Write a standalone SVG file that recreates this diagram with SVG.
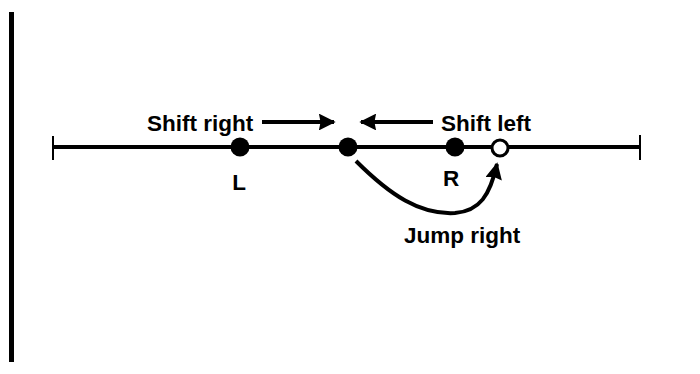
<svg xmlns="http://www.w3.org/2000/svg" width="700" height="374" viewBox="0 0 700 374">
<defs>
<style>
text{font-family:"Liberation Sans",Arial,sans-serif;font-weight:bold;font-size:22.5px;fill:#000}
.dot{fill:#000}
.open{fill:#fff;stroke:#000;stroke-width:3}
.ln{stroke:#000;fill:none}
</style>
<marker id="ah" viewBox="0 0 10 10" refX="9" refY="5" markerWidth="7" markerHeight="4.2" markerUnits="strokeWidth" orient="auto">
<path d="M0,0 L10,5 L0,10 L1,5 z" fill="#000"/>
</marker>
</defs>
<rect x="9" y="12" width="5" height="350" fill="#000"/>
<g id="axis">
<line class="ln" x1="53" y1="147" x2="640" y2="147" stroke-width="4"/>
<line class="ln" x1="53" y1="136" x2="53" y2="160" stroke-width="2"/>
<line class="ln" x1="640" y1="135" x2="640" y2="160" stroke-width="2"/>
</g>
<g id="connectors">
<line class="ln" x1="262" y1="122" x2="334" y2="122" stroke-width="4" marker-end="url(#ah)"/>
<line class="ln" x1="433" y1="122" x2="361" y2="122" stroke-width="4" marker-end="url(#ah)"/>
<path class="ln" d="M356,161 C390,195 420,215 455,213 C480,211 490,195 497,164" stroke-width="4" marker-end="url(#ah)"/>
</g>
<g id="nodeL"><circle class="dot" cx="240" cy="147" r="9.5"/><text x="239" y="190" text-anchor="middle">L</text></g>
<g id="nodeM"><circle class="dot" cx="348" cy="147" r="9.5"/></g>
<g id="nodeR"><circle class="dot" cx="455" cy="147" r="9.5"/><text x="451" y="186" text-anchor="middle">R</text></g>
<g id="nodeOpen"><circle class="open" cx="500" cy="148" r="8"/></g>
<g id="labels">
<text x="147" y="131">Shift right</text>
<text x="441" y="131">Shift left</text>
<text x="404" y="243">Jump right</text>
</g>
</svg>
